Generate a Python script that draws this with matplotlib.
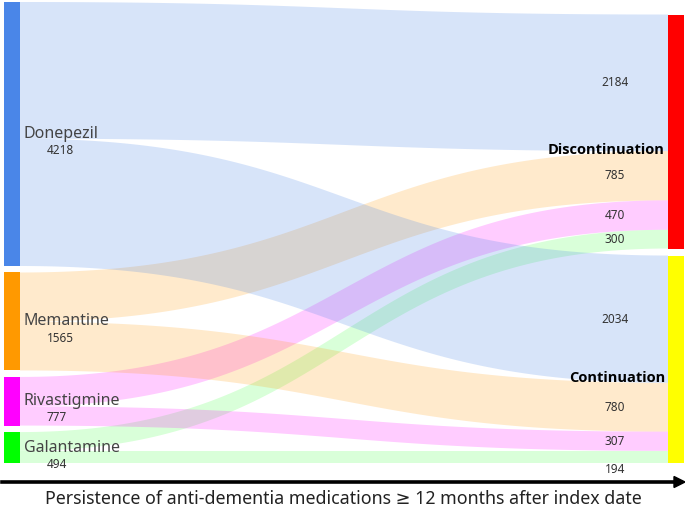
import numpy as np
import matplotlib.pyplot as plt
from matplotlib.patches import Rectangle

plt.rcParams['font.family'] = ['Noto Sans', 'DejaVu Sans']

# data
drugs = ['Donepezil', 'Memantine', 'Rivastigmine', 'Galantamine']
drug_totals = [4218, 1565, 777, 494]
outcomes = ['Discontinuation', 'Continuation']
discontinued = [2184, 785, 470, 300]
continued = [2034, 780, 307, 194]
xlabel = 'Persistence of anti-dementia medications \u2265 12 months after index date'

drug_colors = ['#4a86e8', '#ff9900', '#ff00ff', '#00ff00']
link_alpha = [0.22, 0.2, 0.2, 0.15]
outcome_colors = ['#ff0000', '#ffff00']

W, H = 685, 509
fig = plt.figure(figsize=(W / 100, H / 100), dpi=100)

gap = 104
total = sum(drug_totals) + gap * (len(drugs) - 1)
# axes covers pixel rows 2..463
ax = fig.add_axes([0, (H - 463) / H, 1, 461 / H])
ax.set_xlim(0, W)
ax.set_ylim(total, 0)
ax.axis('off')

xl0, xl1 = 4, 20      # left node columns (px)
xr0, xr1 = 668, 684   # right node columns (px)

# left node positions
left_top = []
y = 0
for v in drug_totals:
    left_top.append(y)
    y += v + gap

# right node positions (bottom aligned)
out_totals = [sum(discontinued), sum(continued)]
rgap = 112
cont_top = total - out_totals[1]
disc_top = cont_top - rgap - out_totals[0]
right_top = [disc_top, cont_top]


def bezier_band(ax, x0, x1, a0, a1, b0, b1, color, alpha):
    t = np.linspace(0, 1, 100)
    xm = (x0 + x1) / 2
    bx = (1 - t) ** 3 * x0 + 3 * (1 - t) ** 2 * t * xm + 3 * (1 - t) * t ** 2 * xm + t ** 3 * x1
    s = 3 * (1 - t) * t ** 2 + t ** 3
    top = a0 + (b0 - a0) * s
    bot = a1 + (b1 - a1) * s
    xs = np.concatenate([bx, bx[::-1]])
    ys = np.concatenate([top, bot[::-1]])
    ax.fill(xs, ys, color=color, alpha=alpha, lw=0)


flows = [discontinued, continued]

# links: source side ordered Disc then Cont, target side ordered by drug
src_pos = {}
for i in range(len(drugs)):
    c = left_top[i]
    for j in range(2):
        src_pos[(i, j)] = c
        c += flows[j][i]
dst_pos = {}
for j in range(2):
    c = right_top[j]
    for i in range(len(drugs)):
        dst_pos[(i, j)] = c
        c += flows[j][i]

for j in range(2):
    for i in range(len(drugs)):
        v = flows[j][i]
        a = src_pos[(i, j)]
        b = dst_pos[(i, j)]
        bezier_band(ax, xl1, xr0, a, a + v, b, b + v, drug_colors[i], link_alpha[i])
        # value label near right end
        if v * 461 / total < 14:
            ax.text(615, b + v, str(v), ha='center', va='top', fontsize=8.5, color='#333333')
        else:
            ax.text(615, b + v / 2, str(v), ha='center', va='center', fontsize=8.5, color='#333333')

# nodes
for i, name in enumerate(drugs):
    ax.add_patch(Rectangle((xl0, left_top[i]), xl1 - xl0, drug_totals[i], color=drug_colors[i], lw=0))
    yc = left_top[i] + drug_totals[i] / 2
    ax.text(24, yc, name, ha='left', va='center', fontsize=11.5, color='#444444')
    ax.annotate(str(drug_totals[i]), xy=(47, yc), xytext=(0, -12), textcoords='offset points',
                ha='left', va='center', fontsize=8.5, color='#333333')

for j, name in enumerate(outcomes):
    ax.add_patch(Rectangle((xr0, right_top[j]), xr1 - xr0, out_totals[j], color=outcome_colors[j], lw=0))
    yc = right_top[j] + out_totals[j] / 2
    ax.annotate(name, xy=(665, yc), xytext=(0, -13.5), textcoords='offset points',
                ha='right', va='center', fontsize=10.5, fontweight='bold', color='black',
                family=['Open Sans', 'DejaVu Sans'])

# bottom arrow and label
fig.add_artist(plt.Line2D([2 / W, 676 / W], [1 - 482 / H, 1 - 482 / H], color='black', lw=2.6))
fig.patches.append(plt.Polygon([[674 / W, 1 - 476.5 / H], [685 / W, 1 - 482 / H], [674 / W, 1 - 487.5 / H]],
                               closed=True, color='black', transform=fig.transFigure, figure=fig))
fig.text(343 / W, 1 - 499 / H, xlabel, ha='center', va='center', fontsize=12.8, color='#222222')

fig.savefig('out.png', dpi=100)
